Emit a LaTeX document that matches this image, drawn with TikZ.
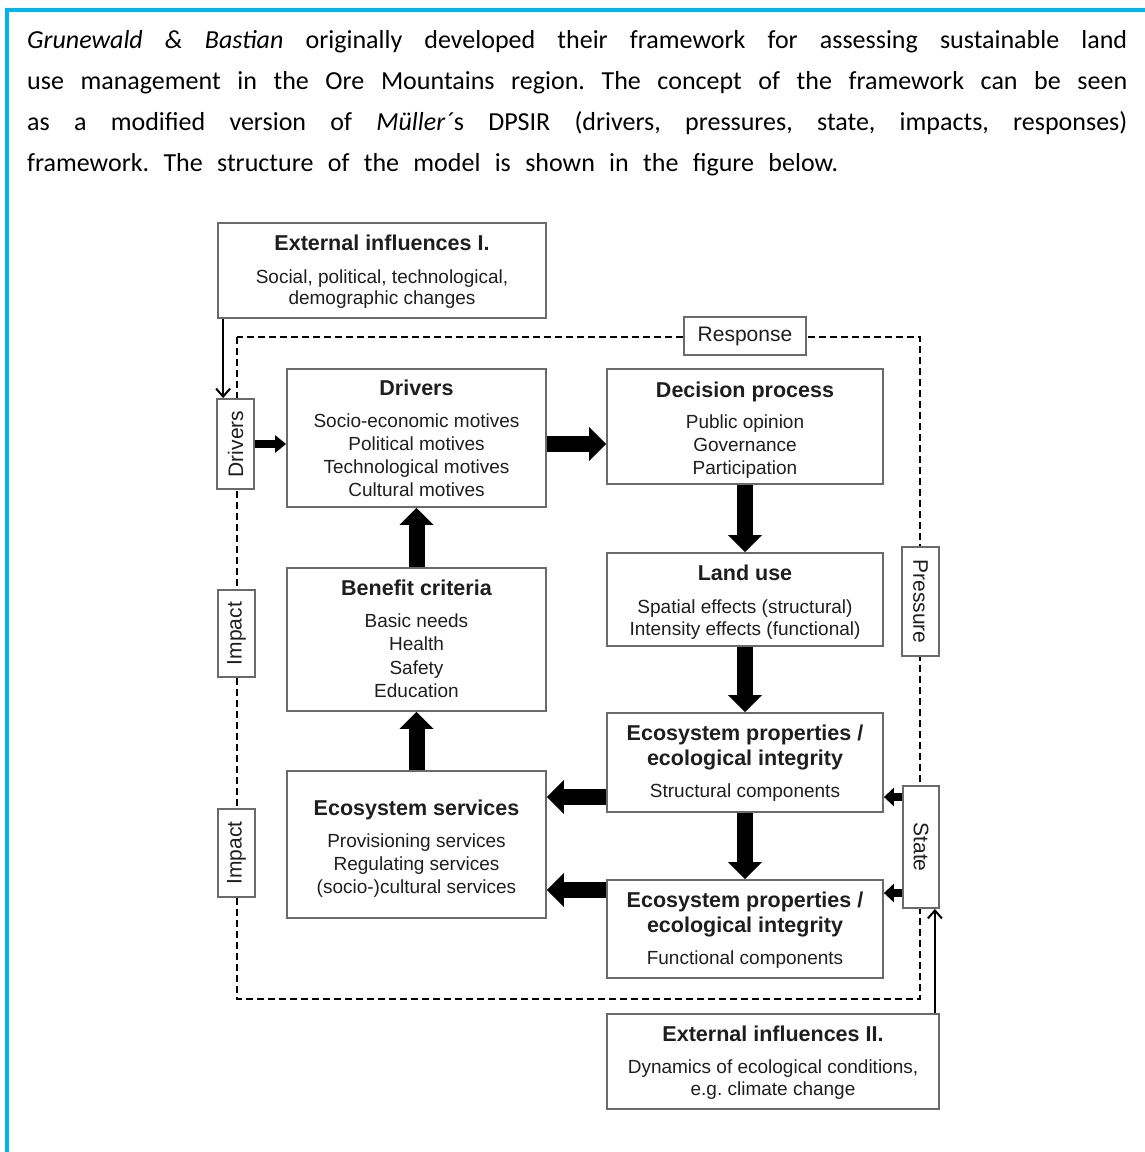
\documentclass[tikz,border=0pt]{standalone}
\usepackage{fontspec}
\setmainfont{Liberation Sans}
\newfontfamily\bodyfont{Carlito}
\usetikzlibrary{arrows.meta,calc}
\definecolor{framecyan}{HTML}{00B4EE}
\definecolor{ink}{HTML}{1E1E1E}
\definecolor{edge}{HTML}{6A6A6A}
\frenchspacing

\begin{document}
\begin{tikzpicture}[x=1pt,y=-1pt,
  box/.style 2 args={draw=edge,line width=1.8pt,fill=white,inner sep=0pt,
    minimum width=#1,minimum height=#2},
  title/.style={font=\fontsize{21.5}{25}\selectfont\bfseries,text=ink,
    anchor=base,align=center,inner sep=0pt},
  body/.style={font=\fontsize{19}{23.3}\selectfont,text=ink,
    anchor=base,align=center,inner sep=0pt},
  tagtext/.style={font=\fontsize{21}{25}\selectfont,text=ink,inner sep=0pt},
  para/.style={font=\bodyfont\fontsize{26}{41}\selectfont,text=black,
    anchor=base west,inner sep=0pt},
  bigarrow/.style={draw=black,line width=16pt,-{Triangle[length=17pt,width=33pt]}},
  midarrow/.style={draw=black,line width=8pt,-{Triangle[length=11pt,width=17pt]}},
  smallarrow/.style={draw=black,line width=8pt,-{Triangle[length=10pt,width=18pt]}},
  thinarrow/.style={draw=black,line width=2pt,-{Straight Barb[length=8pt,width=14pt]}},
  loop/.style={draw=black,line width=2pt,dash pattern=on 7pt off 4pt}
]
\useasboundingbox (0,0) rectangle (1145,1152);

% page frame
\draw[framecyan,line width=4pt] (7,1160) -- (7,10.3) -- (1150,10.3);

% introductory paragraph (multi-line nodes are anchored at their last baseline)
\node[para] (p1) at (27,48.3) {\makebox[1100pt][s]{\textit{Grunewald \& Bastian} originally developed their framework for assessing sustainable land}};
\node[para] (p2) at (27,89.5) {\makebox[1100pt][s]{use management in the Ore Mountains region. The concept of the framework can be seen}};
\node[para] (p3) at (27,130.7) {\makebox[1100pt][s]{as a modified version of \textit{Müller´}s DPSIR (drivers, pressures, state, impacts, responses)}};
\node[para] (p4) at (27,171.7) {\makebox[811pt][s]{framework. The structure of the model is shown in the figure below.}};

% dashed DPSIR loop
\draw[loop] (237,337) rectangle (920,999);

% main boxes
\node[box={328pt}{95pt}]  (ext1) at (382,270.5) {};
\node[box={259pt}{138pt}] (drv)  at (416.5,438) {};
\node[box={276pt}{115pt}] (dec)  at (745,426.5) {};
\node[box={276pt}{93pt}]  (land) at (745,599.5) {};
\node[box={276pt}{99pt}]  (eco1) at (745,762.5) {};
\node[box={276pt}{98pt}]  (eco2) at (745,929) {};
\node[box={332pt}{95pt}]  (ext2) at (773,1061.5) {};
\node[box={259pt}{143pt}] (ben)  at (416.5,639.5) {};
\node[box={259pt}{147pt}] (srv)  at (416.5,844.5) {};

% loop tags
\node[box={37pt}{90pt}]   (tdrv)   at (235.5,444) {};
\node[box={37pt}{87pt}]   (timp1)  at (236.5,633.5) {};
\node[box={37pt}{88pt}]   (timp2)  at (236.5,853) {};
\node[box={122pt}{38pt}]  (tresp)  at (745,336) {};
\node[box={37pt}{109pt}]  (tpres)  at (920.5,601.5) {};
\node[box={36pt}{122pt}]  (tstate) at (921,847) {};

\node[tagtext,rotate=90]  (tdrv-t)   at (tdrv)   {Drivers};
\node[tagtext,rotate=90]  (timp1-t)  at (timp1)  {Impact};
\node[tagtext,rotate=90]  (timp2-t)  at (timp2)  {Impact};
\node[tagtext]            (tresp-t)  at (tresp)  {Response};
\node[tagtext,rotate=-90] (tpres-t)  at (tpres)  {Pressure};
\node[tagtext,rotate=-90] (tstate-t) at (tstate) {State};

% box texts
\node[title] (ext1-h) at (382,250) {External influences I.};
\node[body,font=\fontsize{19}{21.5}\selectfont] (ext1-b) at (382,304.5) {Social, political, technological,\\demographic changes};

\node[title] (drv-h) at (416.5,395) {Drivers};
\node[body]  (drv-b) at (416.5,496.9) {Socio-economic motives\\Political motives\\Technological motives\\Cultural motives};

\node[title] (dec-h) at (745,397) {Decision process};
\node[body]  (dec-b) at (745,474.6) {Public opinion\\Governance\\Participation};

\node[title] (land-h) at (745,580) {Land use};
\node[body,font=\fontsize{19}{22}\selectfont]  (land-b) at (745,635) {Spatial effects (structural)\\Intensity effects (functional)};

\node[title] (eco1-h) at (745,765) {Ecosystem properties /\\ecological integrity};
\node[body]  (eco1-b) at (745,797) {Structural components};

\node[title] (eco2-h) at (745,932) {Ecosystem properties /\\ecological integrity};
\node[body]  (eco2-b) at (745,964) {Functional components};

\node[title] (ext2-h) at (773,1041) {External influences II.};
\node[body,font=\fontsize{19}{22}\selectfont] (ext2-b) at (773,1095) {Dynamics of ecological conditions,\\e.g. climate change};

\node[title] (ben-h) at (416.5,595) {Benefit criteria};
\node[body,font=\fontsize{19}{23.5}\selectfont] (ben-b) at (416.5,697.5) {Basic needs\\Health\\Safety\\Education};

\node[title] (srv-h) at (416.5,815) {Ecosystem services};
\node[body]  (srv-b) at (416.5,893.6) {Provisioning services\\Regulating services\\(socio-)cultural services};

% connectors
\draw[thinarrow] ([xshift=6pt]ext1.south west) -- ([xshift=6pt]ext1.south west |- tdrv.north);
\draw[midarrow]  (tdrv.east) -- (tdrv.east -| drv.west);
\draw[bigarrow]  ([yshift=-6pt]drv.east) -- ([yshift=-6pt]drv.east -| dec.west);
\draw[bigarrow]  (dec.south) -- (land.north);
\draw[bigarrow]  (land.south) -- (eco1.north);
\draw[bigarrow]  (eco1.south) -- (eco2.north);
\draw[bigarrow]  ([yshift=-34.5pt]eco1.west) -- ([yshift=-34.5pt]eco1.west -| srv.east);
\draw[bigarrow]  ([yshift=39pt]eco2.west) -- ([yshift=39pt]eco2.west -| srv.east);
\draw[bigarrow]  (srv.north) -- (ben.south);
\draw[bigarrow]  (ben.north) -- (drv.south);
\draw[smallarrow] ([yshift=-34.5pt]eco1.east -| tstate.west) -- ([yshift=-34.5pt]eco1.east);
\draw[smallarrow] ([yshift=36pt]eco2.east -| tstate.west) -- ([yshift=36pt]eco2.east);
\draw[thinarrow] ([xshift=-5pt]ext2.north east) -- ([xshift=-5pt]ext2.north east |- tstate.south);
\end{tikzpicture}
\end{document}
